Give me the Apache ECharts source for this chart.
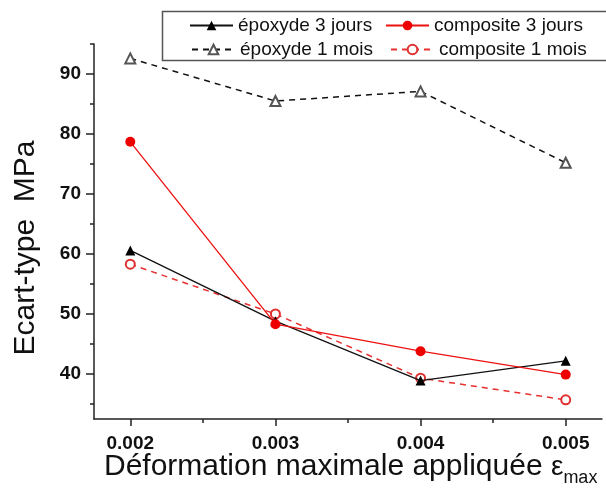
<!DOCTYPE html>
<html>
<head>
<meta charset="utf-8">
<script src="https://cdn.jsdelivr.net/npm/echarts@6/dist/echarts.min.js"></script>
<style>html,body{margin:0;padding:0;background:#fff;}#c{width:606px;height:501px;}</style>
</head>
<body>
<div id="c"></div>
<script>
const strain = [0.002, 0.003, 0.004, 0.005];
const epoxy3d = [60.6, 48.8, 38.9, 42.2];
const compo3d = [78.7, 48.3, 43.8, 39.9];
const epoxy1m = [92.6, 85.5, 87.1, 75.2];
const compo1m = [58.3, 50.0, 39.3, 35.7];
const xTickLabels = [0.002, 0.003, 0.004, 0.005];
const xMinorTicks = [0.0025, 0.0035, 0.0045];
const yTickLabels = [40, 50, 60, 70, 80, 90];
const yMinorTicks = [35, 45, 55, 65, 75, 85, 95];
const names = ['époxyde 3 jours', 'composite 3 jours', 'époxyde 1 mois', 'composite 1 mois'];

const FONT = 'Liberation Sans, Arial, sans-serif';
const pairs = arr => strain.map((x, i) => [x, arr[i]]);

const chart = echarts.init(document.getElementById('c'));
const legendBase = {
  orient: 'horizontal', itemWidth: 43, itemHeight: 12, itemGap: 0, z: 10,
  textStyle: { fontFamily: FONT, fontSize: 19, color: '#111' }, selectedMode: false
};
chart.setOption({
  animation: false,
  backgroundColor: '#fff',
  grid: { left: 94, right: 4, top: 44, bottom: 82, containLabel: false },
  xAxis: [{
    type: 'value', min: 0.00175, max: 0.00525,
    axisLine: { show: true, lineStyle: { color: '#222', width: 1.5 } },
    axisTick: { show: true, length: 7, customValues: xTickLabels, lineStyle: { color: '#222', width: 1.5 } },
    axisLabel: { customValues: xTickLabels, margin: 15, fontFamily: FONT, fontSize: 19, fontWeight: 'bold', color: '#111',
      formatter: v => v.toFixed(3) },
    splitLine: { show: false }
  }, {
    type: 'value', min: 0.00175, max: 0.00525, position: 'bottom',
    axisLine: { show: false },
    axisTick: { show: true, length: 4, customValues: xMinorTicks, lineStyle: { color: '#222', width: 1.5 } },
    axisLabel: { show: false }, splitLine: { show: false }
  }],
  yAxis: [{
    type: 'value', min: 32.5, max: 95,
    axisLine: { show: true, lineStyle: { color: '#222', width: 1.5 } },
    axisTick: { show: true, length: 8, customValues: yTickLabels, lineStyle: { color: '#222', width: 1.5 } },
    axisLabel: { customValues: yTickLabels, margin: 13, fontFamily: FONT, fontSize: 19, fontWeight: 'bold', color: '#111' },
    splitLine: { show: false }
  }, {
    type: 'value', min: 32.5, max: 95, position: 'left',
    axisLine: { show: false },
    axisTick: { show: true, length: 4, customValues: yMinorTicks, lineStyle: { color: '#222', width: 1.5 } },
    axisLabel: { show: false }, splitLine: { show: false }
  }],
  legend: [
    Object.assign({}, legendBase, { data: [names[0]], left: 184, top: 11 }),
    Object.assign({}, legendBase, { data: [names[1]], left: 380, top: 11 }),
    Object.assign({}, legendBase, { data: [names[2]], left: 186, top: 35 }),
    Object.assign({}, legendBase, { data: [names[3]], left: 385, top: 35 })
  ],
  graphic: [
    { type: 'rect', z: 1, shape: { x: 162.5, y: 11.5, width: 460, height: 49 },
      style: { fill: '#fff', stroke: '#555', lineWidth: 1.5 } },
    { type: 'text', x: 26, y: 248, rotation: Math.PI / 2,
      style: { text: 'Ecart-type  MPa', font: '30px ' + FONT, fill: '#111', align: 'center', verticalAlign: 'middle' } },
    { type: 'text', x: 104, y: 467,
      style: { text: '{a|Déformation maximale appliquée }{b|ε}{c|max}', fill: '#111', align: 'left', verticalAlign: 'middle',
        rich: {
          a: { fontFamily: FONT, fontSize: 30, fill: '#111' },
          b: { fontFamily: FONT, fontSize: 28, fill: '#111' },
          c: { fontFamily: FONT, fontSize: 18, fill: '#111', padding: [22, 0, 0, 0] }
        } } }
  ],
  series: [
    { name: names[0], type: 'line', data: pairs(epoxy3d), symbol: 'triangle', symbolSize: 10,
      itemStyle: { color: '#000' }, lineStyle: { color: '#111', width: 1.3 }, z: 4 },
    { name: names[1], type: 'line', data: pairs(compo3d), symbol: 'circle', symbolSize: 10,
      itemStyle: { color: '#ee0000' }, lineStyle: { color: '#ee1111', width: 1.3 }, z: 5 },
    { name: names[2], type: 'line', data: pairs(epoxy1m), symbol: 'emptyTriangle', symbolSize: 10,
      itemStyle: { color: '#555', borderWidth: 1 }, lineStyle: { color: '#111', width: 1.5, type: [6, 5] }, z: 3 },
    { name: names[3], type: 'line', data: pairs(compo1m), symbol: 'emptyCircle', symbolSize: 9,
      itemStyle: { color: '#e03030', borderWidth: 1 }, lineStyle: { color: '#e83030', width: 1.5, type: [6, 5] }, z: 3 }
  ]
});
</script>
</body>
</html>
